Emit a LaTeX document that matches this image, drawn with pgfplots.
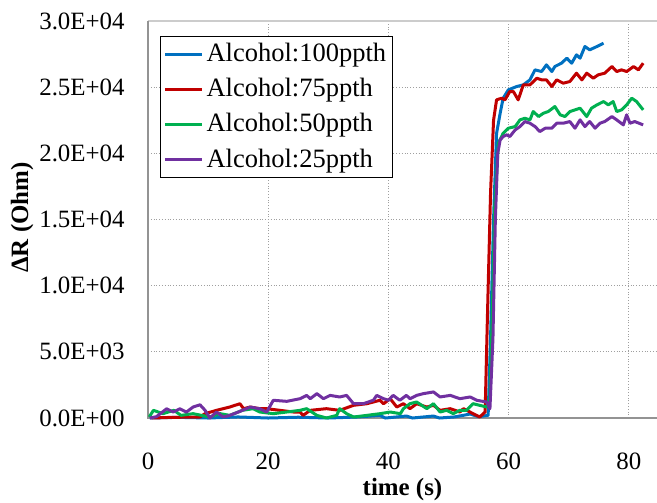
\documentclass[12pt,border=0pt]{standalone}
\usepackage{fontspec}
\setmainfont{Liberation Serif}
\usepackage{pgfplots}
\pgfplotsset{compat=1.18}
\usetikzlibrary{calc}
\definecolor{cBlue}{RGB}{0,112,192}
\definecolor{cRed}{RGB}{192,0,0}
\definecolor{cGreen}{RGB}{0,176,80}
\definecolor{cPurple}{RGB}{112,48,160}
\begin{document}
\begin{tikzpicture}
\begin{axis}[
  scale only axis, width=254.5bp, height=198.5bp,
  xmin=0, xmax=84.7, ymin=0, ymax=30000,
  clip=false,
  axis line style={draw=none},
  xtick={0,20,40,60,80},
  ytick={0,5000,10000,15000,20000,25000,30000},
  yticklabels={0.0E+00,5.0E+03,1.0E+04,1.5E+04,2.0E+04,2.5E+04,3.0E+04},
  scaled y ticks=false,
  major tick length=0pt,
  /pgf/number format/assume math mode=true,
  ticklabel style={font=\fontsize{12.5}{14}\selectfont},
  xticklabel style={inner sep=0pt, anchor=north, yshift=-17.5bp},
  yticklabel style={inner sep=0pt, anchor=east, xshift=-11.5bp},
  xmajorgrids, ymajorgrids,
  major grid style={densely dotted, gray!75, line width=0.5bp},
  xlabel={\textbf{time (s)}},
  ylabel={\textbf{ΔR (Ohm)}},
  label style={font=\fontsize{12.5}{14}\selectfont},
  xlabel style={at={(axis description cs:0.5,-0.151)}, anchor=north, inner sep=0pt},
  ylabel style={at={(axis description cs:-0.2475,0.505)}, anchor=center, inner sep=0pt, rotate=0},
  legend style={at={(rel axis cs:0.0236,0.963)}, anchor=north west, draw=black, line width=0.6bp,
    nodes={inner xsep=1.5pt, inner ysep=2pt}, row sep=2.6bp, fill=white, font=\fontsize{13.3}{15}\selectfont,
    inner sep=1.5bp},
  legend image code/.code={\draw[#1] (0bp,0bp) -- (18.5bp,0bp);},
  legend cell align=left,
  every axis plot/.append style={line width=1.5bp, line join=round},
]
\coordinate (bl) at (rel axis cs:0,0);
\coordinate (tr) at (rel axis cs:1,1);
\draw[gray!40, line width=0.8bp] (rel axis cs:0,1) -- (rel axis cs:1,1);
\draw[gray!85, line width=0.6bp] (rel axis cs:0,1) -- (rel axis cs:0,0) -- (rel axis cs:1,0);

\addplot[cBlue] coordinates {
(0.3,0) (5,50) (10,0) (15,80) (20,0) (25,60) (30,0) (35,80) (38.6,200) (39.5,0)
(43.0,150) (44.0,0) (47.5,150) (48.5,0) (51,80) (53.6,300) (55.0,100) (56.6,200)
(57.0,6000) (57.5,15000) (58.0,21500) (58.6,23030) (59.1,24166) (59.96,24796)
(61.35,25048) (62.45,25174) (63.56,25552) (64.4,26308) (65.5,26182) (66.3,26686)
(67.2,26182) (67.7,26560) (68.8,26812) (69.7,27190) (70.5,26812) (71.3,27442)
(71.9,27190) (72.7,28072) (73.5,27820) (74.7,28072) (75.8,28324)
};
\addlegendentry{Alcohol:100ppth}

\addplot[cRed] coordinates {
(0.6,0) (4,50) (8.65,76) (9.5,330) (11.4,580) (13.6,830) (15.3,1080) (15.9,706)
(17.0,830) (18.6,706) (19.75,706) (21.96,580) (24.2,454) (25.3,454) (25.8,200)
(27.0,580) (29.7,706) (31.9,580) (34.2,960) (36.4,1080) (38.6,1340) (39.2,1080)
(40.3,1460) (41.4,830) (42.5,1080) (43.6,706) (44.7,1080) (46.4,830) (47.5,960)
(48.6,580) (50.3,706) (51.9,454) (52.5,706) (54.1,330) (55.2,76) (56.1,454)
(56.5,8000) (57.0,17000) (57.5,22500) (58.0,24040) (58.85,24166) (59.4,24040)
(60.2,24670) (60.8,24670) (61.6,24040) (62.45,25174) (63.56,25174) (64.7,25678)
(65.5,25552) (66.3,25552) (67.2,25048) (68.0,25552) (69.1,25300) (70.2,25426)
(71.3,26056) (72.2,25552) (73.0,26056) (74.1,25678) (74.9,25930) (76.0,26056)
(77.2,26560) (78.0,26182) (78.8,26308) (79.65,26182) (80.8,26560) (81.6,26308)
(82.4,26812)
};
\addlegendentry{Alcohol:75ppth}

\addplot[cGreen] coordinates {
(0.2,76) (0.9,580) (2.5,330) (4.3,580) (5.5,200) (7.5,330) (10.3,76) (12.0,330)
(13.6,200) (15.7,580) (17.5,706) (18.6,454) (20.85,328) (23.1,454) (25.3,580)
(26.4,706) (28.1,200) (29.7,0) (31.4,200) (31.9,706) (33.05,328) (34.2,76)
(36.4,200) (38.6,328) (40.3,454) (42.0,328) (42.5,706) (43.6,1084) (44.7,1210)
(46.4,706) (47.5,1084) (48.6,454) (49.7,580) (50.8,328) (51.9,580) (53.0,580)
(54.1,1084) (55.2,958) (56.35,832) (56.9,1500) (57.3,8000) (57.7,16000)
(58.3,20764) (59.1,21520) (59.96,21898) (61.1,22024) (61.9,22528) (62.7,22654)
(63.56,22528) (64.1,23158) (65.0,22780) (65.8,23032) (66.6,23158) (67.7,23536)
(68.6,22906) (69.4,22780) (70.2,23158) (71.05,23284) (71.9,23410) (73.0,22780)
(73.8,23410) (74.7,23662) (75.8,23914) (76.6,23662) (77.4,23914) (78.0,23158)
(78.8,23284) (79.65,23662) (80.5,24166) (81.3,23914) (82.4,23284)
};
\addlegendentry{Alcohol:50ppth}

\addplot[cPurple] coordinates {
(0.3,0) (1.4,100) (3.1,700) (4.2,450) (5.3,700) (6.4,450) (7.5,830) (8.65,1000)
(9.5,580) (10.3,0) (11.4,450) (12.5,76) (13.6,200) (15.3,500) (17.0,830)
(18.6,700) (19.75,450) (20.85,1340) (23.1,1260) (25.3,1460) (26.4,1710)
(27.0,1460) (28.1,1840) (29.2,1460) (30.3,1710) (31.9,1590) (33.05,1710)
(34.2,1080) (35.8,1080) (37.5,1340) (38.05,1710) (39.2,1460) (40.0,1340)
(40.8,1710) (41.9,1340) (43.0,1710) (43.6,1460) (44.7,1710) (45.8,1840)
(47.5,1970) (48.6,1590) (50.3,1710) (51.9,1460) (53.6,1590) (54.7,1340)
(56.35,1210) (56.9,706) (57.4,6000) (57.8,15000) (58.2,20000) (58.6,21016)
(59.1,21268) (59.7,21400) (60.2,21268) (61.1,21772) (61.9,22024) (62.7,22402)
(63.56,22276) (64.4,22024) (65.2,21646) (66.1,21898) (67.2,21898) (68.0,22276)
(69.1,22276) (70.2,22402) (71.05,21898) (71.9,22528) (72.7,22024) (73.5,22402)
(74.4,21898) (75.2,22276) (76.0,22402) (77.2,22780) (78.0,22528) (79.1,22150)
(79.65,22906) (80.2,22276) (81.0,22402) (82.4,22150)
};
\addlegendentry{Alcohol:25ppth}
\end{axis}
\pgfresetboundingbox
\path ($(bl)+(-74bp,-42bp)$) rectangle ($(tr)+(0bp,10.5bp)$);
\end{tikzpicture}
\end{document}
